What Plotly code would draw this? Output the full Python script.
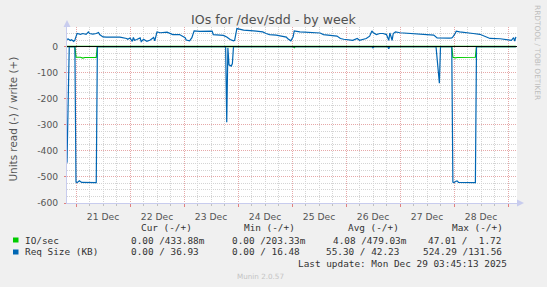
import plotly.graph_objects as go

# ---------------- data ----------------
# Req Size (KB) - write (+)
req_write_time = [
    "2025-12-20 20:00", "2025-12-20 20:30", "2025-12-20 21:30", "2025-12-20 22:00", "2025-12-20 23:00",
    "2025-12-20 23:30", "2025-12-21 00:00", "2025-12-21 00:30", "2025-12-21 02:00", "2025-12-21 03:00",
    "2025-12-21 04:30", "2025-12-21 05:30", "2025-12-21 06:00", "2025-12-21 07:30", "2025-12-21 09:00",
    "2025-12-21 10:00", "2025-12-21 10:30", "2025-12-21 12:00", "2025-12-21 13:30", "2025-12-21 19:30",
    "2025-12-21 22:30", "2025-12-21 23:00", "2025-12-22 00:00", "2025-12-22 01:00", "2025-12-22 01:30",
    "2025-12-22 02:00", "2025-12-22 03:00", "2025-12-22 04:30", "2025-12-22 05:00", "2025-12-22 06:00",
    "2025-12-22 07:30", "2025-12-22 09:00", "2025-12-22 10:30", "2025-12-22 11:00", "2025-12-22 12:00",
    "2025-12-22 13:30", "2025-12-22 16:30", "2025-12-22 19:00", "2025-12-22 22:00", "2025-12-22 23:30",
    "2025-12-23 00:30", "2025-12-23 01:00", "2025-12-23 02:30", "2025-12-23 03:30", "2025-12-23 04:30",
    "2025-12-23 07:00", "2025-12-23 12:30", "2025-12-23 13:00", "2025-12-23 17:30", "2025-12-23 19:00",
    "2025-12-23 20:30", "2025-12-23 22:00", "2025-12-23 22:30", "2025-12-23 23:30", "2025-12-24 01:00",
    "2025-12-24 02:30", "2025-12-24 07:00", "2025-12-24 11:00", "2025-12-24 12:30", "2025-12-24 14:00",
    "2025-12-24 17:00", "2025-12-24 20:00", "2025-12-24 21:30", "2025-12-24 22:00", "2025-12-24 23:00",
    "2025-12-24 23:30", "2025-12-25 00:30", "2025-12-25 01:00", "2025-12-25 03:30", "2025-12-25 08:00",
    "2025-12-25 12:30", "2025-12-25 14:00", "2025-12-25 17:00", "2025-12-25 20:00", "2025-12-25 21:30",
    "2025-12-25 23:00", "2025-12-26 03:00", "2025-12-26 05:00", "2025-12-26 06:00", "2025-12-26 07:30",
    "2025-12-26 09:00", "2025-12-26 10:30", "2025-12-26 11:30", "2025-12-26 12:00", "2025-12-26 13:30",
    "2025-12-26 15:00", "2025-12-26 16:30", "2025-12-26 18:00", "2025-12-26 19:00", "2025-12-26 19:30",
    "2025-12-26 20:30", "2025-12-26 21:00", "2025-12-26 22:00", "2025-12-27 00:00", "2025-12-27 04:30",
    "2025-12-27 09:00", "2025-12-27 13:30", "2025-12-27 15:00", "2025-12-27 16:30", "2025-12-27 20:00",
    "2025-12-27 22:00", "2025-12-27 23:00", "2025-12-27 23:30", "2025-12-28 00:30", "2025-12-28 01:00",
    "2025-12-28 02:30", "2025-12-28 05:30", "2025-12-28 08:30", "2025-12-28 11:30", "2025-12-28 13:00",
    "2025-12-28 16:00", "2025-12-28 20:30", "2025-12-28 23:30", "2025-12-29 01:00", "2025-12-29 01:30",
    "2025-12-29 02:30", "2025-12-29 03:00", "2025-12-29 03:30",
]
req_write_kb = [
    27, 29, 23, 26, 20,
    25, 38, 50, 47, 50,
    47, 56, 50, 48, 50,
    54, 46, 37, 36, 36,
    31, 28, 33, 20, 35,
    24, 27, 33, 19, 28,
    20, 25, 35, 22, 56,
    53, 55, 46, 46, 37,
    34, 25, 22, 34, 60,
    58, 59, 46, 43, 37,
    27, 22, 24, 69, 65,
    63, 60, 56, 50, 46,
    44, 40, 36, 31, 24,
    22, 37, 60, 56, 55,
    52, 46, 42, 40, 31,
    28, 24, 31, 24, 27,
    31, 40, 60, 54, 46,
    50, 50, 46, 24, 52,
    24, 50, 56, 53, 50,
    48, 46, 44, 33, 31,
    32, 33, 37, 50, 59,
    56, 54, 50, 47, 41,
    31, 30, 28, 27, 24,
    34, 21, 37,
]

# Req Size (KB) - read (-), magnitudes
req_read_time = [
    "2025-12-20 20:00", "2025-12-20 20:30", "2025-12-20 21:00", "2025-12-20 23:30", "2025-12-21 00:00",
    "2025-12-21 00:30", "2025-12-21 01:30", "2025-12-21 02:30", "2025-12-21 09:00", "2025-12-21 09:30",
    "2025-12-23 18:30", "2025-12-23 19:00", "2025-12-23 19:30", "2025-12-23 20:00", "2025-12-23 21:00",
    "2025-12-23 21:30", "2025-12-23 22:00", "2025-12-26 11:30", "2025-12-26 12:00", "2025-12-26 12:30",
    "2025-12-26 18:30", "2025-12-26 19:00", "2025-12-26 19:30", "2025-12-27 16:00", "2025-12-27 16:30",
    "2025-12-27 17:30", "2025-12-27 18:00", "2025-12-27 23:00", "2025-12-27 23:30", "2025-12-28 00:00",
    "2025-12-28 01:00", "2025-12-28 01:30", "2025-12-28 02:00", "2025-12-28 09:30", "2025-12-28 10:00",
    "2025-12-29 03:30",
]
req_read_kb = [
    446, 157, 0, 0, 520,
    522, 515, 521, 522, 0,
    0, 290, 5, 70, 75,
    65, 0, 0, 5, 0,
    0, 8, 0, 0, 55,
    141, 0, 0, 520, 522,
    516, 516, 521, 522, 0,
    0,
]

# IO/sec - read (-), magnitudes
io_read_time = [
    "2025-12-20 20:00", "2025-12-20 23:30", "2025-12-21 00:00", "2025-12-21 02:00", "2025-12-21 03:00",
    "2025-12-21 04:00", "2025-12-21 09:00", "2025-12-21 09:30", "2025-12-25 00:30", "2025-12-25 01:00",
    "2025-12-25 01:30", "2025-12-27 23:00", "2025-12-27 23:30", "2025-12-28 00:30", "2025-12-28 01:30",
    "2025-12-28 09:30", "2025-12-28 10:00", "2025-12-29 03:30",
]
io_read = [0, 0, 41, 41, 44, 42, 42, 0, 0, 4, 0, 0, 41, 43, 42, 41, 0, 0]

# IO/sec - write (+)
io_write_time = [
    "2025-12-20 20:00", "2025-12-21 08:00", "2025-12-21 20:00", "2025-12-22 08:00", "2025-12-22 20:00",
    "2025-12-23 08:00", "2025-12-23 20:00", "2025-12-24 08:00", "2025-12-24 20:00", "2025-12-25 08:00",
    "2025-12-25 20:00", "2025-12-26 08:00", "2025-12-26 20:00", "2025-12-27 08:00", "2025-12-27 20:00",
    "2025-12-28 08:00", "2025-12-28 20:00", "2025-12-29 03:30",
]
io_write = [0.45, 0.52, 0.47, 0.44, 0.49, 0.51, 0.46, 0.48, 0.43, 0.50,
            0.47, 0.45, 0.49, 0.46, 0.48, 0.50, 0.44, 0.43]

y_tick_vals = [0, -100, -200, -300, -400, -500, -600]
y_tick_text = ["0", "-100", "-200", "-300", "-400", "-500", "-600"]

legend_header = ["Cur (-/+)", "Min (-/+)", "Avg (-/+)", "Max (-/+)"]
legend_names = ["IO/sec", "Req Size (KB)"]
legend_io = ["0.00 /433.88m", "0.00 /203.33m", "4.08 /479.03m", "47.01 /  1.72"]
legend_req = ["0.00 / 36.93", "0.00 / 16.48", "55.30 / 42.23", "524.29 /131.56"]
last_update = "Last update: Mon Dec 29 03:45:13 2025"

GREEN = "#00CC00"
BLUE = "#0066B3"

# ---------------- layout geometry ----------------
W, H = 547, 287
L, R, T, B = 67, 30, 27, 84
PW, PH = W - L - R, H - T - B


def px(x):
    return (x - L) / PW


def py(y):
    return (H - B - y) / PH


fig = go.Figure()
fig.add_trace(go.Scatter(x=io_read_time, y=[-v for v in io_read], mode="lines",
                         line=dict(color=GREEN, width=1.2), hoverinfo="skip"))
fig.add_trace(go.Scatter(x=io_write_time, y=io_write, mode="lines",
                         line=dict(color=GREEN, width=1.2), hoverinfo="skip"))
fig.add_trace(go.Scatter(x=req_read_time, y=[-v for v in req_read_kb], mode="lines",
                         line=dict(color=BLUE, width=1.2), hoverinfo="skip"))
fig.add_trace(go.Scatter(x=req_write_time, y=req_write_kb, mode="lines",
                         line=dict(color=BLUE, width=1.2), hoverinfo="skip"))

AXC = "#C8CCEE"
MGRID = "#E6A8A8"
GRID = "#D4D4D4"
TXT = "#555555"

fig.update_layout(
    width=W, height=H,
    margin=dict(l=L, r=R, t=T, b=B, pad=0),
    paper_bgcolor="#F0F0F0", plot_bgcolor="#FFFFFF",
    showlegend=False,
    title=dict(text="IOs for /dev/sdd - by week", x=0.5, xref="container", xanchor="center",
               y=1 - 19.9 / H, yref="container", yanchor="middle",
               font=dict(family="DejaVu Sans", size=12.6, color="#505050")),
    xaxis=dict(type="date", range=["2025-12-20 20:00", "2025-12-29 04:00"],
               dtick=86400000, tick0="2025-12-21", tickformat="%d %b", ticklabelmode="period",
               showgrid=True, gridcolor=MGRID, griddash="1px,1px", gridwidth=1,
               minor=dict(dtick=21600000, showgrid=True, gridcolor=GRID, griddash="1px,1px",
                          ticks="outside", ticklen=2, tickcolor="#C0C0C0"),
               ticks="outside", ticklen=3, tickcolor="#E08080",
               showline=True, linecolor=AXC, linewidth=1, zeroline=False,
               tickfont=dict(family="DejaVu Sans", size=9.2, color=TXT),
               ticklabelstandoff=2, fixedrange=True),
    yaxis=dict(range=[-600, 75], tickvals=y_tick_vals, ticktext=y_tick_text,
               showgrid=True, gridcolor=MGRID, griddash="1px,1px", gridwidth=1,
               minor=dict(dtick=25, tick0=0, showgrid=True, gridcolor=GRID, griddash="1px,1px"),
               ticks="outside", ticklen=2, tickcolor="#E08080",
               showline=True, linecolor=AXC, linewidth=1, zeroline=False,
               tickfont=dict(family="DejaVu Sans", size=9.2, color=TXT),
               ticklabelstandoff=4, fixedrange=True),
)

shapes = [
    # zero line
    dict(type="line", xref="paper", yref="y", x0=0, x1=1, y0=0, y1=0,
         line=dict(color="#000000", width=1), layer="above"),
    # axis arrows
    dict(type="path", xref="paper", yref="paper",
         path=f"M {px(63.5)} {py(27)} L {px(70.5)} {py(27)} L {px(67)} {py(20)} Z",
         fillcolor=AXC, line=dict(width=0)),
    dict(type="path", xref="paper", yref="paper",
         path=f"M {px(517)} {py(199.5)} L {px(517)} {py(206.5)} L {px(524)} {py(203)} Z",
         fillcolor=AXC, line=dict(width=0)),
    # legend swatches
    dict(type="rect", xref="paper", yref="paper", x0=px(13), x1=px(18.5), y0=py(237.5), y1=py(242.5),
         fillcolor=GREEN, line=dict(width=0)),
    dict(type="rect", xref="paper", yref="paper", x0=px(13), x1=px(18.5), y0=py(249.5), y1=py(254.5),
         fillcolor=BLUE, line=dict(width=0)),
]
fig.update_layout(shapes=shapes)

MONO = dict(family="DejaVu Sans Mono", size=9.4, color="#333333")
ann = []


def add_text(text, x, y, font, xanchor="left", textangle=0):
    ann.append(dict(text=text, x=px(x), y=py(y), xref="paper", yref="paper",
                    xanchor=xanchor, yanchor="middle", showarrow=False, font=font,
                    borderpad=0, borderwidth=0, textangle=textangle))


header_x = [140.7, 244.3, 347.7, 451.7]
for t, x in zip(legend_header, header_x):
    add_text(t.replace(" ", "&nbsp;"), x, 227.3, MONO)

add_text(legend_names[0], 25, 240, MONO)
add_text(legend_names[1].replace(" ", "&nbsp;"), 25, 251.7, MONO)

io_x = [131, 232.3, 332.7, 427.7]
for t, x in zip(legend_io, io_x):
    add_text(t.replace(" ", "&nbsp;"), x, 240, MONO)
req_x = [131, 232.3, 326, 422.7]
for t, x in zip(legend_req, req_x):
    add_text(t.replace(" ", "&nbsp;"), x, 251.7, MONO)

add_text(last_update.replace(" ", "&nbsp;"), 297.7, 263.3, MONO)
add_text("Munin 2.0.57", 260.7, 276, dict(family="DejaVu Sans", size=7.2, color="#C4C4C4"),
         xanchor="center")
add_text("Units read (-) / write (+)", 12, 119.5, dict(family="DejaVu Sans", size=10.4, color=TXT),
         xanchor="center", textangle=-90)
add_text("RRDTOOL / TOBI OETIKER", 537.5, 52.5, dict(family="DejaVu Sans", size=7.4, color="#BDBDBD"),
         xanchor="center", textangle=90)

fig.update_layout(annotations=ann)
fig.write_html("out.html", config={"displayModeBar": False})
